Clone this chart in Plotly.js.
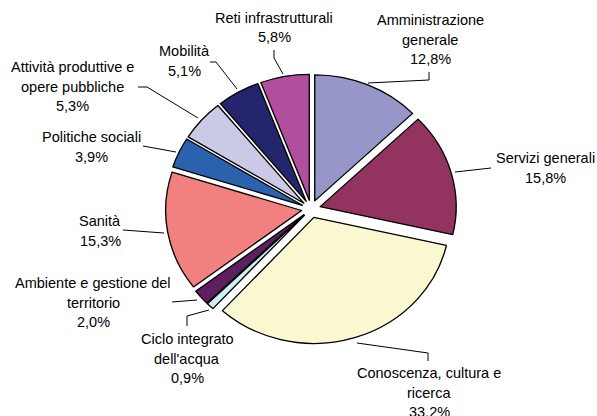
<!DOCTYPE html>
<html>
<head>
<meta charset="utf-8">
<script src="https://cdn.plot.ly/plotly-3.0.1.min.js"></script>
<style>
html,body{margin:0;padding:0;background:#fff;}
#wrap{position:relative;width:597px;height:416px;overflow:hidden;}
#pie,#labels{position:absolute;left:0;top:0;width:597px;height:416px;}
#pie{transform-origin:311px 209px;transform:scale(1.038,0.962);}
</style>
</head>
<body>
<div id="wrap"><div id="pie"></div><div id="labels"></div></div>
<script>
// ---- data ----
var categories = ["Amministrazione generale","Servizi generali","Conoscenza, cultura e ricerca","Ciclo integrato dell'acqua","Ambiente e gestione del territorio","Sanità","Politiche sociali","Attività produttive e opere pubbliche","Mobilità","Reti infrastrutturali"];
var values = [12.8, 15.8, 33.2, 0.9, 2.0, 15.3, 3.9, 5.3, 5.1, 5.8];
var labelLines = [["Amministrazione","generale"],["Servizi generali"],["Conoscenza, cultura e","ricerca"],["Ciclo integrato","dell'acqua"],["Ambiente e gestione del","territorio"],["Sanità"],["Politiche sociali"],["Attività produttive e","opere pubbliche"],["Mobilità"],["Reti infrastrutturali"]];
var colors = ["#9696C8","#93335F","#FAF8D0","#CDEEF4","#5E1F5E","#F2807E","#2A62AE","#CACAE6","#25256E","#B24E9E"];

// ---- layout helpers (pixel positions of labels / leaders) ----
var W = 597, H = 416;
var labelAnchor = [[430,20],[545,158],[429,373],[187,339],[93,283],[100,221],[91,137],[72,67],[184,51],[274,18]];
var leaders = [
  [[368,83],[429,80],[429,72]],
  [[455,172],[491,168]],
  [[357,343],[428,353],[428,361]],
  [[209,310],[187,316],[187,326]],
  [[172,302],[197,300]],
  [[123,230],[164,233]],
  [[143,146],[176,152]],
  [[138,87],[147,87],[198,118]],
  [[210,62],[216,62],[237,89]],
  [[274,50],[274,58],[283,74]]
];
var lineGap = 19.5;
function px(x){return x/W;}
function py(y){return 1-y/H;}

var annotations = [];
var shapes = [];
categories.forEach(function(c,i){
  var lines = labelLines[i].concat([values[i].toFixed(1).replace('.',',')+'%']);
  lines.forEach(function(t,j){
    annotations.push({
      text:t, xref:'paper', yref:'paper',
      x:px(labelAnchor[i][0]), y:py(labelAnchor[i][1]+j*lineGap),
      xanchor:'center', yanchor:'middle', showarrow:false,
      font:{family:'Liberation Sans, Arial, sans-serif', size:14.5, color:'#000'}
    });
  });
  var p = leaders[i].map(function(pt,k){return (k===0?'M':'L')+px(pt[0])+','+py(pt[1]);}).join(' ');
  shapes.push({type:'path', xref:'paper', yref:'paper', path:p, line:{color:'#000', width:1}});
});

var trace = {
  type:'pie',
  labels:categories,
  values:values,
  sort:false,
  direction:'clockwise',
  rotation:0,
  pull:values.map(function(){return 0.07;}),
  marker:{colors:colors, line:{color:'#000', width:1.3}},
  textinfo:'none',
  hoverinfo:'label+percent',
  showlegend:false,
  domain:{x:[0.2861,0.7558], y:[0.1606,0.8346]}
};

Plotly.newPlot('pie',[trace],{
  width:W, height:H, margin:{l:0,r:0,t:0,b:0},
  paper_bgcolor:'#fff', showlegend:false
},{displayModeBar:false, staticPlot:true});

Plotly.newPlot('labels',[],{
  width:W, height:H, margin:{l:0,r:0,t:0,b:0},
  paper_bgcolor:'rgba(0,0,0,0)', plot_bgcolor:'rgba(0,0,0,0)',
  xaxis:{visible:false}, yaxis:{visible:false},
  showlegend:false, annotations:annotations, shapes:shapes
},{displayModeBar:false, staticPlot:true});
</script>
</body>
</html>
